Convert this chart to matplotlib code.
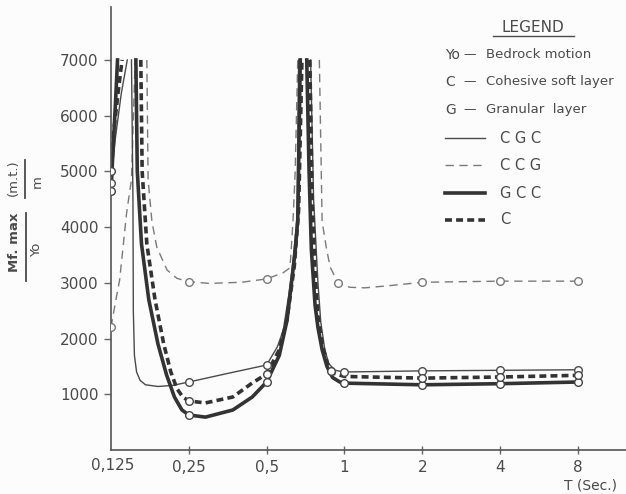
import numpy as np
import matplotlib

matplotlib.use("Agg")
import matplotlib.pyplot as plt
from matplotlib.lines import Line2D

nan = np.nan

# period T (sec) / Mf.max/Yo values, nan = curve runs off the top (clipped at 7000)
cgc_t = [0.125, 0.13, 0.137, 0.1445, nan,
         0.150, 0.152, 0.1525, 0.154, 0.157, 0.162, 0.17, 0.19, 0.217, 0.25, 0.35, 0.5,
         0.55, 0.58, 0.61, 0.627, 0.656, 0.665, nan,
         0.74, 0.76, 0.79, 0.81, 0.84, 0.87, 0.92, 1.0, 2, 4, 8]
cgc_v = [4800, 5600, 6400, 7000, nan,
         7000, 4500, 2500, 1700, 1400, 1250, 1170, 1140, 1160, 1220, 1370, 1525,
         1850, 2150, 2800, 3230, 4130, 7000, nan,
         7000, 4500, 3000, 2300, 1800, 1550, 1430, 1400, 1420, 1430, 1440]

ccg_t = [0.125, 0.13, 0.135, 0.1436, 0.15, 0.155, nan,
         0.172, 0.174, 0.18, 0.188, 0.206, 0.225, 0.25, 0.3, 0.4, 0.5,
         0.579, 0.616, 0.633, 0.645, 0.66, nan,
         0.80, 0.82, 0.85, 0.88, 0.945, 1.05, 1.2, 1.5, 2, 4, 8]
ccg_v = [2200, 2650, 3050, 4250, 4850, 7000, nan,
         7000, 4850, 4100, 3640, 3230, 3080, 3020, 2990, 3010, 3070,
         3180, 3270, 4130, 5000, 7000, nan,
         7000, 4100, 3650, 3285, 3000, 2920, 2910, 2950, 3010, 3030, 3030]

gcc_t = [0.125, 0.127, 0.13, 0.1325, nan,
         0.156, 0.158, 0.164, 0.175, 0.19, 0.205, 0.22, 0.235, 0.25, 0.29, 0.37, 0.44, 0.5,
         0.56, 0.6, 0.644, 0.66, 0.675, nan,
         0.715, 0.73, 0.745, 0.77, 0.79, 0.82, 0.856, 0.9, 0.96, 1.0, 2, 4, 8]
gcc_v = [4650, 5300, 6200, 7000, nan,
         7000, 5000, 3700, 2700, 1900, 1350, 950, 720, 628, 590, 718, 951, 1220,
         1700, 2330, 3540, 4130, 7000, nan,
         7000, 5000, 3600, 2600, 2200, 1800, 1500, 1300, 1220, 1200, 1170, 1190, 1220]

c_t = [0.125, 0.128, 0.133, 0.138, nan,
       0.163, 0.165, 0.172, 0.185, 0.2, 0.213, 0.225, 0.237, 0.25, 0.29, 0.37, 0.44, 0.5,
       0.56, 0.6, 0.64, 0.665, 0.685, nan,
       0.735, 0.75, 0.77, 0.79, 0.82, 0.86, 0.92, 1.0, 2, 4, 8]
c_v = [5000, 5700, 6400, 7000, nan,
       7000, 5000, 3700, 2700, 1900, 1400, 1100, 950, 880, 845, 951, 1203, 1364,
       1800, 2350, 3300, 4300, 7000, nan,
       7000, 4500, 3200, 2400, 1900, 1550, 1370, 1320, 1290, 1310, 1340]

# computed points (circles)
cgc_pt_t = [0.125, 0.25, 0.5, 1.0, 2, 4, 8]
cgc_pt_v = [4800, 1220, 1525, 1400, 1420, 1430, 1440]
ccg_pt_t = [0.125, 0.25, 0.5, 0.945, 2, 4, 8]
ccg_pt_v = [2200, 3020, 3070, 3000, 3010, 3030, 3030]
gcc_pt_t = [0.125, 0.25, 0.5, 1.0, 2, 4, 8]
gcc_pt_v = [4650, 628, 1220, 1200, 1170, 1190, 1220]
c_pt_t = [0.125, 0.25, 0.5, 0.89, 2, 4, 8]
c_pt_v = [5000, 880, 1364, 1420, 1290, 1310, 1340]

x_ticks = [0.25, 0.5, 1, 2, 4, 8]
x_ticklabels = ["0,25", "0,5", "1", "2", "4", "8"]
y_ticks = [1000, 2000, 3000, 4000, 5000, 6000, 7000]
y_ticklabels = ["1000", "2000", "3000", "4000", "5000", "6000", "7000"]

W, H = 626, 494
txt = "#4a4a4a"

plt.rcParams["font.family"] = ["DejaVu Sans"]
plt.rcParams["lines.scale_dashes"] = False

fig = plt.figure(figsize=(W / 100, H / 100), dpi=100)
fig.patch.set_facecolor("#fcfcfc")


def fx(px):
    return px / W


def fy(py):
    return 1 - py / H


ax = fig.add_axes([fx(111), fy(450), fx(626) - fx(111), fy(7) - fy(450)])
ax.set_facecolor("none")
ax.set_xscale("log", base=2)
ax.set_xlim(0.125, 0.125 * 2 ** ((626 - 111) / 77.8))
ax.set_ylim(0, 7950)

styles = {
    "CGC": dict(color="#4a4a4a", lw=1.0, ls="-"),
    "CCG": dict(color="#7a7a7a", lw=1.0, ls=(0, (6, 4))),
    "GCC": dict(color="#333333", lw=2.6, ls="-"),
    "C": dict(color="#333333", lw=2.6, ls=(0, (5, 3))),
}

ax.plot(ccg_t, ccg_v, **styles["CCG"])
ax.plot(cgc_t, cgc_v, **styles["CGC"])
ax.plot(gcc_t, gcc_v, **styles["GCC"])
ax.plot(c_t, c_v, **styles["C"])

for tt, vv, col in [(ccg_pt_t, ccg_pt_v, "#7a7a7a"), (cgc_pt_t, cgc_pt_v, "#4a4a4a"),
                    (gcc_pt_t, gcc_pt_v, "#444444"), (c_pt_t, c_pt_v, "#444444")]:
    ax.plot(tt, vv, ls="none", marker="o", ms=5.5, mfc="white", mec=col, mew=1.0, zorder=5)

for s in ["top", "right"]:
    ax.spines[s].set_visible(False)
for s in ["left", "bottom"]:
    ax.spines[s].set_color("#555555")
    ax.spines[s].set_linewidth(1.2)

ax.xaxis.set_major_locator(matplotlib.ticker.FixedLocator(x_ticks))
ax.xaxis.set_minor_locator(matplotlib.ticker.NullLocator())
ax.set_xticklabels(x_ticklabels)
ax.set_yticks(y_ticks)
ax.set_yticklabels(y_ticklabels)
ax.tick_params(axis="x", direction="inout", length=6, width=1, colors="#666666",
               labelcolor=txt, labelsize=11, pad=4)
ax.tick_params(axis="y", direction="out", length=5, width=1, colors="#666666",
               labelcolor=txt, labelsize=11, pad=4)

# origin label sits under the y axis
fig.text(fx(113), fy(465), "0,125", ha="center", va="center", fontsize=11, color=txt)
fig.text(fx(590), fy(485), "T (Sec.)", ha="center", va="center", fontsize=10, color=txt)

# y label: Mf.max / Yo  (m.t.) / m, written as rotated fractions
fig.text(fx(14), fy(242), "Mf. max", rotation=90, ha="center", va="center",
         fontsize=9.5, fontweight="bold", color=txt)
fig.text(fx(37), fy(250), "Yo", rotation=90, ha="center", va="center", fontsize=9.5, color=txt)
fig.add_artist(Line2D([fx(26), fx(26)], [fy(213), fy(281)], color=txt, lw=1.3))
fig.text(fx(13), fy(178), "(m.t.)", rotation=90, ha="center", va="center", fontsize=9.5, color=txt)
fig.text(fx(37), fy(182), "m", rotation=90, ha="center", va="center", fontsize=9.5, color=txt)
fig.add_artist(Line2D([fx(25), fx(25)], [fy(160), fy(198)], color=txt, lw=1.3))

# legend block
fig.text(fx(533), fy(27), "LEGEND", ha="center", va="center", fontsize=11, color=txt)
fig.add_artist(Line2D([fx(493), fx(574)], [fy(36), fy(36)], color=txt, lw=1.0))
for py, key, desc in [(55, "Yo", "Bedrock motion"), (82, "C", "Cohesive soft layer"),
                      (110, "G", "Granular  layer")]:
    fig.text(fx(445), fy(py), key, ha="left", va="center", fontsize=10, color=txt)
    fig.text(fx(463), fy(py), "\u2014", ha="left", va="center", fontsize=9, color=txt)
    fig.text(fx(486), fy(py), desc, ha="left", va="center", fontsize=9.5, color=txt)
for py, key in [(138, "CGC"), (165, "CCG"), (193, "GCC"), (220, "C")]:
    fig.add_artist(Line2D([fx(445), fx(485)], [fy(py), fy(py)], **styles[key]))
    fig.text(fx(500), fy(py), " ".join(key), ha="left", va="center", fontsize=10.5, color=txt)

fig.savefig("out.png", dpi=100, facecolor=fig.get_facecolor())
